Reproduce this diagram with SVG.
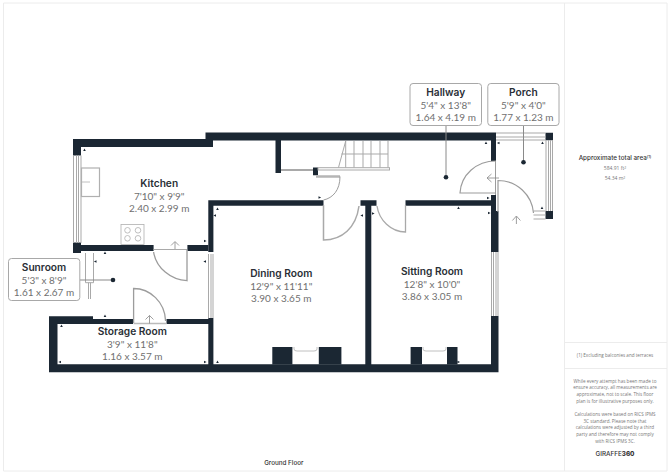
<svg xmlns="http://www.w3.org/2000/svg" width="668" height="473" viewBox="0 0 668 473">
<style>
.w{fill:#1b2733}
.g{fill:none;stroke:#a9a9a9;stroke-width:1}
.d{fill:none;stroke:#9c9c9c;stroke-width:1}
.l{fill:#fff;stroke:#a8a8a8;stroke-width:1}
.k{fill:none;stroke:#b0b0b0;stroke-width:1.2}
.t{font:600 10.2px Inter,"Liberation Sans",sans-serif;fill:#2a2f36;text-anchor:middle}
.m{font:400 10px Lato,"Liberation Sans",sans-serif;fill:#707070;text-anchor:middle}
.s{font:400 4.6px "Open Sans","Liberation Sans",sans-serif;fill:#777;text-anchor:middle}
.n{font:400 5px "Open Sans","Liberation Sans",sans-serif;fill:#777;text-anchor:middle}
.f{font:500 6.3px Inter,"Liberation Sans",sans-serif;fill:#333;text-anchor:middle}
.a{fill:none;stroke:#888;stroke-width:.8}
.p{fill:#1b2733}
</style>
<defs><path id="u" class="p" d="M0-1.600L1.300 1H-1.300Z"/></defs>
<rect width="668" height="473" fill="#fff"/>
<g id="frame" fill="none" stroke="#ececec" stroke-width="1">
<path d="M3.500 3H667V471H3.500ZM564.500 3V471M564.500 342.500H667M564.500 368.500H667"/>
</g>
<g id="walls">
<path class="w" d="M205.500 132.500H496V140.500H205.500ZM73 139H213V147H81V155.500H73ZM275.500 140H281V173H275.500ZM313 167.500H318V175.300H313ZM208.300 200.300H323.500V205.700H213.400V252H208.300ZM360.500 200.300H376.500V205.700H371.300V364.300H365.300V205.700H360.500ZM405.500 200.300H491V205.700H405.500ZM491 140H496V161H491ZM491 195H496V211H498.500V252H491ZM491 316H498.500V372.300H49V316.300H93V319H133V324H57.500V364.300H208.300V324H166.500V319H208.300V318H213.400V364.300H491Z"/>
<path class="w" d="M73 242.500H81V245H153.600V251H81V253H73ZM187.400 245H208.300V251H187.400ZM545.500 132.700H553V140.300H545.500ZM545.500 211H553V219H545.500Z"/>
<path class="w" d="M272.300 347H292.400V364.500H272.300ZM318.800 347H341.400V364.500H318.800ZM410.600 347H422V364.500H410.600ZM447 347H457.500V364.500H447Z"/>
</g>
<g id="windows" class="g">
<path d="M73.500 155.500V243M76.500 155.500V243M78.500 155.500V243M81 155.500V243"/>
<path d="M208.500 254V318M211 254V318M213 254V318"/>
<path d="M491.500 252V316M493.500 252V316M496 252V316M498 252V316"/>
<path d="M85.500 253V282.700H93.500V253M88.500 282.700V299M90.500 282.700V299"/>
<path d="M496 133H545.500M496 137H545.500M496 140H545.500"/>
<path d="M546 140V211M548.500 140V211M550.500 140V211M552.500 140V211"/>
<path d="M533.500 211H545.500M533.500 215H545.500M533.500 219H545.500"/>
<path d="M281 170H313" stroke-width="2"/>
<path d="M153.600 249.500H187"/>
</g>
<g id="stairs" class="g">
<rect x="318" y="167.700" width="71.500" height="2.300" fill="#fff"/>
<path d="M338.500 167.500L345.700 141M345.700 141V167.500M354 141V167.500M363 141V167.500M371 141V167.500M380 141V167.500M388 141V167.500M341.400 154H388"/>
</g>
<g id="doors" class="d">
<path d="M316 176.500H340" stroke-width="2.500" stroke="#b5b5b5"/>
<path d="M340 176.500C340 190 333 198 323.500 200"/>
<path d="M323.500 205V240C342 240 356 228 359 206" stroke-width="1.500" stroke="#a9a9a9"/>
<path d="M377 206C379 220 391 232 405.500 232V205" stroke-width="1.300" stroke="#a9a9a9"/>
<path d="M496 161C476 161 461 175 460 193H496" stroke-width="1.200"/>
<path d="M498 212V180.500C517 180.500 532 195 533.500 213" stroke-width="1.200"/>
<path d="M153.600 252C156 268 171 280 187 280.700V250" stroke-width="1.300"/>
<path d="M133.600 323V288.500C150 288.500 165 302 165.600 321" stroke-width="1.300"/>
<path d="M133.600 323.500H166.500" stroke-width="1.500" stroke="#bbb"/>
<path d="M495.500 161V195"/>
</g>
<g id="fixtures" class="k">
<rect x="81.500" y="168" width="18" height="28.500"/>
<path d="M81.500 182H90" stroke-width=".8"/>
<rect x="121" y="224.500" width="23" height="20" stroke-width=".8"/>
<circle cx="127.500" cy="230.300" r="2.800" stroke-width=".8"/><circle cx="138" cy="230.300" r="2.800" stroke-width=".8"/>
<circle cx="127.500" cy="238.300" r="2.800" stroke-width=".8"/><circle cx="138" cy="238.300" r="2.800" stroke-width=".8"/>
<path d="M294 347V349Q294 351 297 351H314Q317 351 317 349V347" stroke-width=".8"/>
<path d="M423 347V349Q423 351 426 351H443Q446 351 446 349V347" stroke-width=".8"/>
</g>
<g id="entry-arrows" class="a">
<path d="M175 249V242M171 245.500L175 241.500L179 245.500"/>
<path d="M149.500 323.500V315.500M145.500 319.500L149.500 315.500L153.500 319.500"/>
<path d="M499 178H487M491.500 174L487 178L491.500 182"/>
<path d="M516.400 224V216.500M512.400 220.500L516.400 216L520.400 220.500"/>
</g>
<g id="ticks">
<use href="#u" transform="translate(84.500 150)"/><use href="#u" transform="translate(105 253)"/><use href="#u" transform="translate(95.500 261.500) rotate(-90)"/><use href="#u" transform="translate(205 241) rotate(90)"/><use href="#u" transform="translate(205 261.500) rotate(-90)"/><use href="#u" transform="translate(217.500 209)"/><use href="#u" transform="translate(215 215.500) rotate(-90)"/><use href="#u" transform="translate(319.500 197.500) rotate(90)"/><use href="#u" transform="translate(362 215.500) rotate(-90)"/><use href="#u" transform="translate(373 213.500) rotate(90)"/><use href="#u" transform="translate(486 143)"/><use href="#u" transform="translate(498.500 143) rotate(-90)"/><use href="#u" transform="translate(542.500 143)"/><use href="#u" transform="translate(488 198) rotate(90)"/><use href="#u" transform="translate(458.500 208)"/><use href="#u" transform="translate(489 213) rotate(90)"/><use href="#u" transform="translate(542 208)"/><use href="#u" transform="translate(105 316)"/><use href="#u" transform="translate(61.500 326)"/><use href="#u" transform="translate(60 362) rotate(-90)"/><use href="#u" transform="translate(205 362) rotate(90)"/><use href="#u" transform="translate(217.500 362)"/><use href="#u" transform="translate(458.500 362) rotate(90)"/>
</g>
<g id="connectors" fill="none" stroke="#8a8a8a" stroke-width="1">
<path d="M446 125.500V177.300"/>
<path d="M523.500 125.500V162.300"/>
<path d="M80 280H113"/>
</g>
<g id="markers" fill="#1b2733"><circle cx="446" cy="177.300" r="2.300"/><circle cx="523.500" cy="162.300" r="2.300"/><circle cx="113" cy="280" r="2.300"/></g>
<g id="hallway"><rect class="l" x="410" y="83.500" width="71.500" height="42" rx="3"/><text class="t" x="445.700" y="96">Hallway</text><text class="m" x="445.700" y="109">5'4" x 13'8"</text><text class="m" x="445.700" y="120.500">1.64 x 4.19 m</text></g>
<g id="porch"><rect class="l" x="487.800" y="83.500" width="71.200" height="42" rx="3"/><text class="t" x="523.400" y="96">Porch</text><text class="m" x="523.400" y="109">5'9" x 4'0"</text><text class="m" x="523.400" y="120.500">1.77 x 1.23 m</text></g>
<g id="sunroom"><rect class="l" x="8.500" y="258.500" width="71.300" height="42" rx="3"/><text class="t" x="44" y="271">Sunroom</text><text class="m" x="44" y="284">5'3" x 8'9"</text><text class="m" x="44" y="295.500">1.61 x 2.67 m</text></g>
<g id="kitchen"><text class="t" x="159.200" y="187">Kitchen</text><text class="m" x="159.200" y="200">7'10" x 9'9"</text><text class="m" x="159.200" y="211.500">2.40 x 2.99 m</text></g>
<g id="storage-room"><text class="t" x="132.300" y="335">Storage Room</text><text class="m" x="132.300" y="348">3'9" x 11'8"</text><text class="m" x="132.300" y="359.500">1.16 x 3.57 m</text></g>
<g id="dining-room"><text class="t" x="281.300" y="277">Dining Room</text><text class="m" x="281.300" y="290">12'9" x 11'11"</text><text class="m" x="281.300" y="301.500">3.90 x 3.65 m</text></g>
<g id="sitting-room"><text class="t" x="432" y="275.300">Sitting Room</text><text class="m" x="432" y="288">12'8" x 10'0"</text><text class="m" x="432" y="299.500">3.86 x 3.05 m</text></g>
<g id="side-panel">
<text class="f" x="615" y="159.500">Approximate total area<tspan font-size="4" dy="-2">(1)</tspan></text>
<text class="n" x="615" y="170">584.91 ft<tspan font-size="3.500" dy="-1.500">2</tspan></text>
<text class="n" x="615" y="180">54.34 m<tspan font-size="3.500" dy="-1.500">2</tspan></text>
<text class="s" x="615" y="356.700">(1) Excluding balconies and terraces</text>
<text class="s" x="615" y="382.500">While every attempt has been made to</text>
<text class="s" x="615" y="389">ensure accuracy, all measurements are</text>
<text class="s" x="615" y="396">approximate, not to scale. This floor</text>
<text class="s" x="615" y="402.500">plan is for illustrative purposes only.</text>
<text class="s" x="615" y="415.700">Calculations were based on RICS IPMS</text>
<text class="s" x="615" y="422.500">3C standard. Please note that</text>
<text class="s" x="615" y="429">calculations were adjusted by a third</text>
<text class="s" x="615" y="435.700">party and therefore may not comply</text>
<text class="s" x="615" y="442.500">with RICS IPMS 3C.</text>
<text class="f" x="615" y="456">GIRAFFE<tspan font-weight="800">360</tspan></text>
</g>
<text class="f" x="283.800" y="464.500" id="floor-label">Ground Floor</text>
</svg>
